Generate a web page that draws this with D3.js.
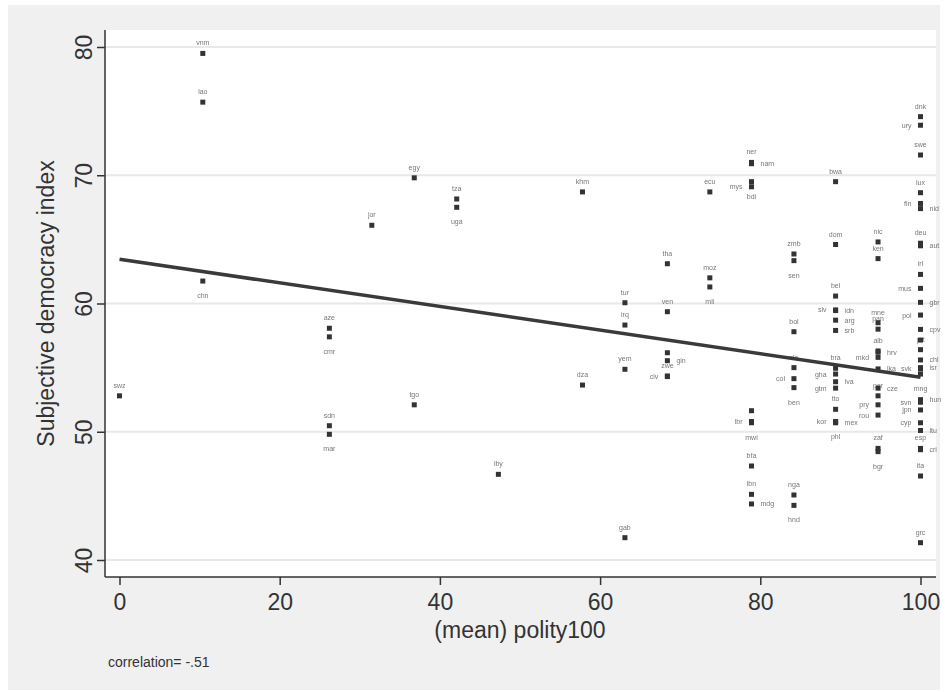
<!DOCTYPE html>
<html>
<head>
<meta charset="utf-8">
<script src="https://cdn.jsdelivr.net/npm/d3@7"></script>
<style>
  body { margin: 0; background: #fff; }
  text { font-family: "Liberation Sans", Arial, sans-serif; }
</style>
</head>
<body>
<div id="chart"></div>
<script>
// country codes, (mean) polity100, subjective democracy index, label clock position
var codes = ["swz","vnm","lao","chn","aze","cmr","sdn","mar","jor","egy","tgo","tza","uga","lby",
  "khm","dza","tur","irq","yem","gab","tha","ven","","gin","zwe","civ","ecu","moz","mli",
  "ner","nam","mys","bdi","","lbr","mwi","bfa","lbn","mdg",
  "zmb","sen","bol","sle","col","ben","nga","hnd",
  "bwa","dom","bel","slv","idn","arg","srb","bra","gha","lva","gtm","tto","kor","mex","phl",
  "nic","ken","mne","pan","alb","hrv","mkd","lka","per","cze","pry","rou","zaf","bgr",
  "dnk","ury","swe","lux","fin","nld","deu","aut","irl","mus","gbr","pol","cpv","","prt",
  "chl","isr","svk","mng","hun","svn","jpn","cyp","ltu","esp","cri","ita","grc"];

var polity = [0,10.4,10.4,10.4,26.2,26.2,26.2,26.2,31.5,36.8,36.8,42.1,42.1,47.3,
  57.8,57.8,63.1,63.1,63.1,63.1,68.4,68.4,68.4,68.4,68.4,68.4,73.7,73.7,73.7,
  78.9,78.9,78.9,78.9,78.9,78.9,78.9,78.9,78.9,78.9,
  84.2,84.2,84.2,84.2,84.2,84.2,84.2,84.2,
  89.4,89.4,89.4,89.4,89.4,89.4,89.4,89.4,89.4,89.4,89.4,89.4,89.4,89.4,89.4,
  94.7,94.7,94.7,94.7,94.7,94.7,94.7,94.7,94.7,94.7,94.7,94.7,94.7,94.7,
  100,100,100,100,100,100,100,100,100,100,100,100,100,100,100,
  100,100,100,100,100,100,100,100,100,100,100,100,100];

var sdi = [52.8,79.5,75.7,61.75,58.07,57.4,50.47,49.8,66.1,69.8,52.1,68.15,67.5,46.68,
  68.7,53.64,60.06,58.32,54.87,41.74,63.1,59.36,56.16,55.54,54.35,54.3,68.7,62.0,61.29,
  71.0,70.9,69.1,69.5,51.64,50.8,50.7,47.33,45.12,44.37,
  63.86,63.34,57.8,55.0,54.14,53.44,45.07,44.26,
  69.5,64.6,60.58,59.5,59.45,58.7,57.9,54.95,54.5,53.9,53.4,51.75,50.8,50.7,50.75,
  64.8,63.5,58.5,58.0,56.3,56.2,55.8,54.9,52.8,53.4,52.1,51.3,48.7,48.45,
  74.57,73.9,71.58,68.64,67.8,67.4,64.7,64.5,62.27,61.18,60.09,59.1,57.98,57.15,56.4,
  55.6,55.0,54.9,54.5,52.5,52.3,51.7,50.7,50.1,48.7,48.6,46.55,41.35];

var labelPos = [12,12,12,6,12,6,12,6,12,12,12,12,6,12,
  12,12,12,12,12,12,12,12,12,3,12,9,12,12,6,
  12,3,9,6,12,9,6,12,12,3,
  12,6,12,12,9,6,12,6,
  12,12,12,9,3,3,3,12,9,3,9,12,9,3,6,
  12,12,12,12,12,3,9,3,12,3,9,9,12,6,
  12,9,12,12,9,3,12,3,12,9,3,9,3,12,12,
  3,3,9,6,3,9,9,9,3,12,3,12,12];

var xTicks = [0, 20, 40, 60, 80, 100];
var yTicks = [40, 50, 60, 70, 80];

// linear fit line endpoints
var fitX = [0, 100];
var fitY = [63.45, 54.25];

var svgWidth = 948;
var svgHeight = 692;

var svg = d3.select("#chart")
  .append("svg")
  .attr("width", svgWidth)
  .attr("height", svgHeight);

// grey filter so the tiny labels render without colour fringes
var filt = svg.append("defs").append("filter").attr("id", "grey");
filt.append("feColorMatrix").attr("type", "saturate").attr("values", 0);

// graph region and plot region
svg.append("rect")
  .attr("x", 8).attr("y", 5)
  .attr("width", 932).attr("height", 685)
  .attr("fill", "#f0f0f0");

var plot = { left: 105, right: 936, top: 30, bottom: 577 };

svg.append("rect")
  .attr("x", plot.left).attr("y", plot.top)
  .attr("width", plot.right - plot.left).attr("height", plot.bottom - plot.top)
  .attr("fill", "#fff");

var xScale = d3.scaleLinear().domain([0, 100]).range([119.5, 920.5]);
var yScale = d3.scaleLinear().domain([40, 80]).range([560, 47]);

// gridlines
svg.append("g")
  .selectAll("line")
  .data(yTicks)
  .enter()
  .append("line")
  .attr("x1", plot.left)
  .attr("x2", plot.right)
  .attr("y1", d => yScale(d))
  .attr("y2", d => yScale(d))
  .attr("stroke", "#e8e8e8")
  .attr("stroke-width", 2);

// y axis
var leftAxis = d3.axisLeft(yScale).tickValues(yTicks).tickSize(8);
var yAxis = svg.append("g")
  .attr("transform", `translate(${plot.left}, 0)`)
  .call(leftAxis);
yAxis.select(".domain").attr("d", `M0,${plot.top}V${plot.bottom}`).attr("stroke", "#333").attr("stroke-width", 1.5);
yAxis.selectAll(".tick line").attr("stroke", "#333").attr("stroke-width", 1.5);
yAxis.selectAll(".tick text")
  .attr("font-size", 23)
  .attr("fill", "#333")
  .attr("text-anchor", "middle")
  .attr("x", 0).attr("y", 0).attr("dy", 0)
  .attr("transform", "translate(-13,0) rotate(-90)")
  .style("font-family", "'Liberation Sans', Arial, sans-serif");

// x axis
var bottomAxis = d3.axisBottom(xScale).tickValues(xTicks).tickSize(8).tickPadding(9);
var xAxis = svg.append("g")
  .attr("transform", `translate(0, ${plot.bottom})`)
  .call(bottomAxis);
xAxis.select(".domain").attr("d", `M${plot.left},0H${plot.right}`).attr("stroke", "#333").attr("stroke-width", 1.5);
xAxis.selectAll(".tick line").attr("stroke", "#333").attr("stroke-width", 1.5);
xAxis.selectAll(".tick text")
  .attr("font-size", 23)
  .attr("fill", "#333")
  .style("font-family", "'Liberation Sans', Arial, sans-serif");

// axis titles
svg.append("text")
  .attr("transform", `translate(54, ${(plot.top + plot.bottom) / 2}) rotate(-90)`)
  .attr("text-anchor", "middle")
  .attr("font-size", 23)
  .attr("fill", "#333")
  .text("Subjective democracy index");

svg.append("text")
  .attr("x", (xScale(0) + xScale(100)) / 2)
  .attr("y", 638)
  .attr("text-anchor", "middle")
  .attr("font-size", 23)
  .attr("fill", "#333")
  .text("(mean) polity100");

svg.append("text")
  .attr("x", 108)
  .attr("y", 667)
  .attr("font-size", 14)
  .attr("fill", "#333")
  .text("correlation= -.51");

// points
var points = codes.map((c, i) => ({ code: c, x: polity[i], y: sdi[i], pos: labelPos[i] }));

svg.append("g")
  .attr("filter", "url(#grey)")
  .selectAll("text")
  .data(points.filter(d => d.code !== ""))
  .enter()
  .append("text")
  .attr("x", d => xScale(d.x) + (d.pos === 3 ? 9 : d.pos === 9 ? -9 : 0))
  .attr("y", d => yScale(d.y) + (d.pos === 12 ? -8 : d.pos === 6 ? 17 : 2.5))
  .attr("text-anchor", d => d.pos === 3 ? "start" : d.pos === 9 ? "end" : "middle")
  .attr("font-size", 7)
  .attr("fill", "#777")
  .text(d => d.code);

svg.append("g")
  .selectAll("rect")
  .data(points)
  .enter()
  .append("rect")
  .attr("x", d => xScale(d.x) - 2.5)
  .attr("y", d => yScale(d.y) - 2.5)
  .attr("width", 5)
  .attr("height", 5)
  .attr("fill", "#333");

// fit line
svg.append("line")
  .attr("x1", xScale(fitX[0])).attr("y1", yScale(fitY[0]))
  .attr("x2", xScale(fitX[1])).attr("y2", yScale(fitY[1]))
  .attr("stroke", "#3a3a3a")
  .attr("stroke-width", 3.5);
</script>
</body>
</html>
